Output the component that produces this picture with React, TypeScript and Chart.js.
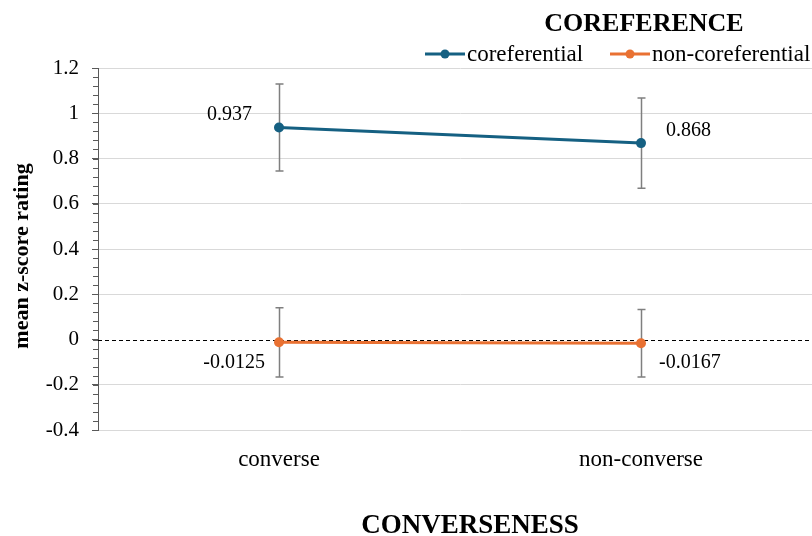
import React, { useEffect, useRef } from "react";
import { Chart, registerables } from "chart.js";

Chart.register(...registerables);

const categories = ["converse", "non-converse"];
const seriesNames = ["coreferential", "non-coreferential"];
const coreferential = [0.937, 0.868];
const nonCoreferential = [-0.0125, -0.0167];
const coreferentialErr = [0.192, 0.199];
const nonCoreferentialErr = [0.153, 0.149];
const dataLabels = [["0.937", "0.868"], ["-0.0125", "-0.0167"]];
const yMin = -0.4;
const yMax = 1.2;
const yStep = 0.2;
const legendTitle = "COREFERENCE";
const xTitle = "CONVERSENESS";
const yTitle = "mean z-score rating";

const BLUE = "#156082";
const ORANGE = "#E97132";
const SERIF = '"Liberation Serif", "Times New Roman", serif';

// label placement (style): [dx, dy, align]
const labelPlacement: [number, number, CanvasTextAlign][][] = [
  [[-27, -13, "right"], [25, -12, "left"]],
  [[-14, 20, "right"], [18, 19, "left"]],
];

const decorPlugin = {
  id: "decor",
  beforeDatasetsDraw(chart: any) {
    const ctx = chart.ctx;
    const y = chart.scales.y;
    const area = chart.chartArea;
    ctx.save();
    // zero dashed line
    const y0 = Math.round(y.getPixelForValue(0)) + 0.5;
    ctx.strokeStyle = "#000";
    ctx.lineWidth = 1;
    ctx.setLineDash([4, 3]);
    ctx.beginPath();
    ctx.moveTo(area.left, y0);
    ctx.lineTo(area.right, y0);
    ctx.stroke();
    ctx.setLineDash([]);
    // minor ticks
    ctx.strokeStyle = "#595959";
    const minorStep = yStep / 5;
    const n = Math.round((yMax - yMin) / minorStep);
    for (let i = 0; i <= n; i++) {
      const v = yMin + i * minorStep;
      const py = Math.round(y.getPixelForValue(v)) + 0.5;
      ctx.beginPath();
      ctx.moveTo(area.left - 5, py);
      ctx.lineTo(area.left, py);
      ctx.stroke();
    }
    // error bars
    const errs = [coreferentialErr, nonCoreferentialErr];
    chart.data.datasets.forEach((ds: any, di: number) => {
      const meta = chart.getDatasetMeta(di);
      meta.data.forEach((pt: any, i: number) => {
        const v = ds.data[i];
        const e = errs[di][i];
        const top = y.getPixelForValue(v + e);
        const bot = y.getPixelForValue(v - e);
        const x = Math.round(pt.x) + 0.5;
        ctx.strokeStyle = "#7f7f7f";
        ctx.lineWidth = 1.5;
        ctx.beginPath();
        ctx.moveTo(x, top);
        ctx.lineTo(x, bot);
        ctx.moveTo(x - 4, top);
        ctx.lineTo(x + 4, top);
        ctx.moveTo(x - 4, bot);
        ctx.lineTo(x + 4, bot);
        ctx.stroke();
      });
    });
    ctx.restore();
  },
  afterDraw(chart: any) {
    const ctx = chart.ctx;
    ctx.save();
    // data labels
    ctx.fillStyle = "#000";
    ctx.font = `20px ${SERIF}`;
    ctx.textBaseline = "middle";
    chart.data.datasets.forEach((ds: any, di: number) => {
      const meta = chart.getDatasetMeta(di);
      meta.data.forEach((pt: any, i: number) => {
        const [dx, dy, align] = labelPlacement[di][i];
        ctx.textAlign = align;
        ctx.fillText(dataLabels[di][i], pt.x + dx, pt.y + dy);
      });
    });
    // legend title
    ctx.font = `bold 26px ${SERIF}`;
    ctx.textAlign = "center";
    ctx.textBaseline = "middle";
    ctx.fillText(legendTitle, 644, 24);
    // legend items
    const colors = [BLUE, ORANGE];
    const starts = [425, 610];
    ctx.font = `23px ${SERIF}`;
    ctx.textAlign = "left";
    seriesNames.forEach((name, i) => {
      const x0 = starts[i];
      const ly = 54;
      ctx.strokeStyle = colors[i];
      ctx.fillStyle = colors[i];
      ctx.lineWidth = 3;
      ctx.beginPath();
      ctx.moveTo(x0, ly);
      ctx.lineTo(x0 + 40, ly);
      ctx.stroke();
      ctx.beginPath();
      ctx.arc(x0 + 20, ly, 4.5, 0, Math.PI * 2);
      ctx.fill();
      ctx.fillStyle = "#000";
      ctx.fillText(name, x0 + 42, ly + 1);
    });
    // x title
    ctx.font = `bold 27px ${SERIF}`;
    ctx.textAlign = "center";
    ctx.fillText(xTitle, 470, 526);
    // y title
    ctx.translate(22, 256);
    ctx.rotate(-Math.PI / 2);
    ctx.font = `bold 22px ${SERIF}`;
    ctx.fillText(yTitle, 0, 0);
    ctx.restore();
  },
};

function fmt(v: number) {
  return String(Number(v.toFixed(2)));
}

export default function App() {
  const ref = useRef<HTMLCanvasElement | null>(null);
  useEffect(() => {
    if (!ref.current) return;
    const chart = new Chart(ref.current, {
      type: "line",
      data: {
        labels: categories,
        datasets: [
          {
            label: seriesNames[0],
            data: coreferential,
            borderColor: BLUE,
            backgroundColor: BLUE,
            borderWidth: 3,
            pointRadius: 5,
            pointBorderWidth: 0,
            pointBackgroundColor: BLUE,
          },
          {
            label: seriesNames[1],
            data: nonCoreferential,
            borderColor: ORANGE,
            backgroundColor: ORANGE,
            borderWidth: 3,
            pointRadius: 5,
            pointBorderWidth: 0,
            pointBackgroundColor: ORANGE,
          },
        ],
      },
      options: {
        responsive: false,
        animation: false,
        layout: { padding: { top: 68, right: 8, left: 0, bottom: 0 } },
        plugins: {
          legend: { display: false },
          tooltip: { enabled: false },
          title: { display: false },
        },
        scales: {
          x: {
            offset: true,
            grid: { display: false, drawTicks: false },
            border: { display: false },
            ticks: {
              color: "#000",
              font: { family: SERIF, size: 23 },
              padding: 16,
            },
            afterFit: (s: any) => {
              s.height = 106;
            },
          },
          y: {
            min: yMin,
            max: yMax,
            ticks: {
              stepSize: yStep,
              color: "#000",
              font: { family: SERIF, size: 21 },
              padding: 13,
              callback: (v: any) => fmt(Number(v)),
            },
            grid: {
              color: (c: any) =>
                Math.abs(c.tick?.value ?? 1) < 1e-9 ? "rgba(0,0,0,0)" : "#d9d9d9",
              tickColor: "#595959",
              tickLength: 6,
              lineWidth: 1,
            },
            border: { display: true, color: "#595959", width: 1 },
            afterFit: (s: any) => {
              s.width = 98;
            },
          },
        },
      },
      plugins: [decorPlugin],
    });
    return () => chart.destroy();
  }, []);
  return (
    <div
      style={{
        position: "fixed",
        left: 0,
        top: 0,
        width: 812,
        height: 536,
        overflow: "hidden",
        background: "#fff",
      }}
    >
      <canvas ref={ref} width={830} height={536} style={{ display: "block" }} />
    </div>
  );
}
